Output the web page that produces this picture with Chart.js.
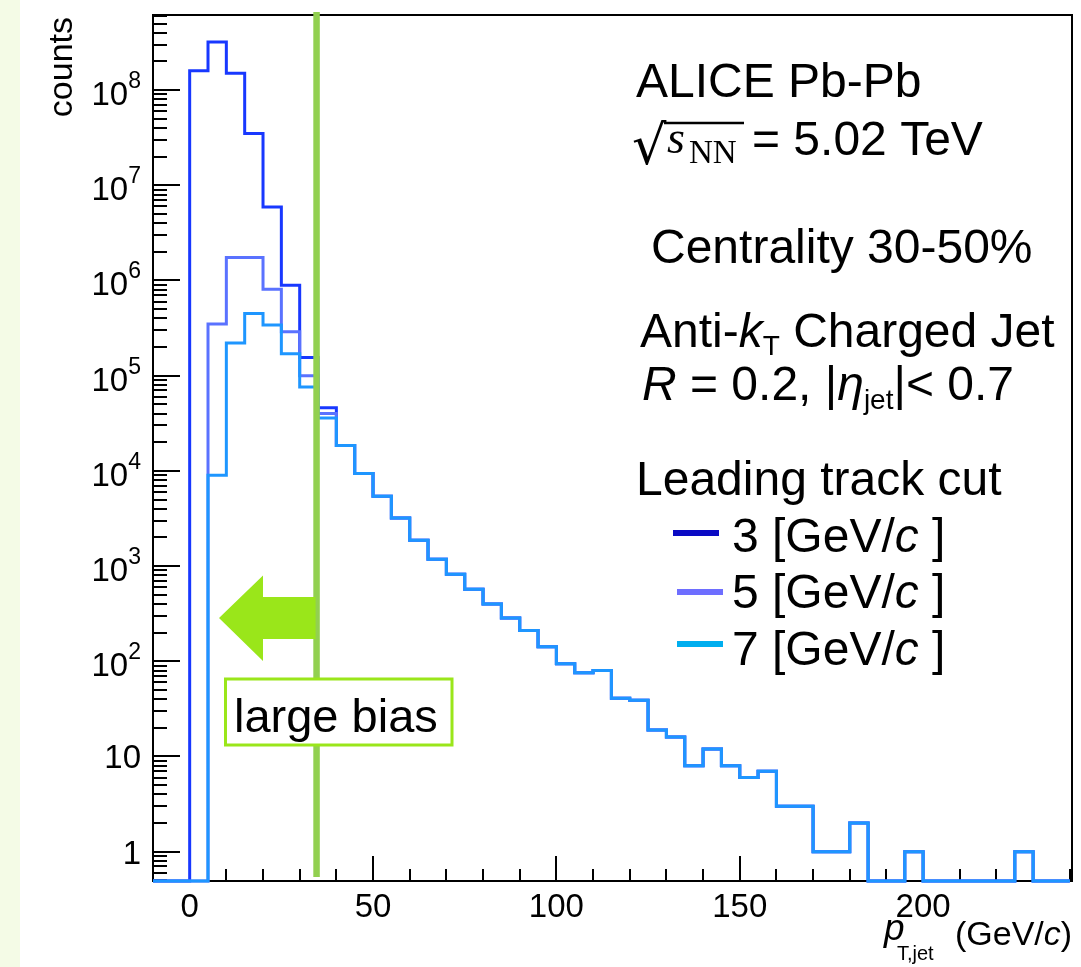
<!DOCTYPE html>
<html>
<head>
<meta charset="utf-8">
<script src="https://cdn.jsdelivr.net/npm/chart.js@4.4.0/dist/chart.umd.min.js"></script>
<style>
html,body{margin:0;padding:0;background:#ffffff;}
#wrap{width:1081px;height:967px;position:relative;}
canvas{display:block;}
</style>
</head>
<body>
<div id="wrap"><canvas id="c" width="1081" height="967"></canvas></div>
<script>
// ---------------- data ----------------
// lower edges of the 5 GeV/c wide pT,jet bins
const BIN_LOW = [-10,-5,0,5,10,15,20,25,30,35,40,45,50,55,60,65,70,75,80,85,90,95,100,105,110,115,120,125,130,135,140,145,150,155,160,165,170,175,180,185,190,195,200,205,210,215,220,225,230,235];
const BIN_HIGH_LAST = 240;

const COUNTS_LT3 = [0,0,1.6e8,3.2e8,1.5e8,3.5e7,5.9e6,8.9e5,1.55e5,4.6e4,
  18500,9400,5400,3200,1870,1180,820,570,400,285,210,142,94,76,80,41,39,19,16,8,12,8,6,7,3,3,1,1,2,0,0,1,0,0,0,0,0,1,0,0];
const COUNTS_LT5 = [0,0,0,3.5e5,1.74e6,1.74e6,8.1e5,2.9e5,1.0e5,4.0e4,
  18500,9400,5400,3200,1870,1180,820,570,400,285,210,142,94,76,80,41,39,19,16,8,12,8,6,7,3,3,1,1,2,0,0,1,0,0,0,0,0,1,0,0];
const COUNTS_LT7 = [0,0,0,9.0e3,2.2e5,4.5e5,3.4e5,1.7e5,7.6e4,3.6e4,
  18500,9400,5400,3200,1870,1180,820,570,400,285,210,142,94,76,80,41,39,19,16,8,12,8,6,7,3,3,1,1,2,0,0,1,0,0,0,0,0,1,0,0];

const SERIES_CUTS = ['3', '5', '7'];
const X_TICK_VALUES = [0, 50, 100, 150, 200];
const X_TICK_LABELS = ['0', '50', '100', '150', '200'];
const Y_TICK_VALUES = [1, 10, 1e2, 1e3, 1e4, 1e5, 1e6, 1e7, 1e8];
const Y_TICK_BASES  = ['1', '10', '10', '10', '10', '10', '10', '10', '10'];
const Y_TICK_EXPS   = ['', '', '2', '3', '4', '5', '6', '7', '8'];
const CUT_PT = 34.6;

// ---------------- style ----------------
const X_MIN = -10, X_MAX = 240.6;
const Y_MIN = 0.492, Y_MAX = 6.15e8;
const LINE_COLORS = ['#1838ff', '#5a72ff', '#1e96ff'];
const LEGEND_COLORS = ['#0a0ac4', '#6e6eff', '#00aeef'];
const SANS = '"Liberation Sans", Arial, Helvetica, sans-serif';
const SERIF = '"Liberation Serif", "DejaVu Serif", serif';

function histPoints(counts) {
  const pts = BIN_LOW.map((e, i) => ({ x: e, y: counts[i] > 0 ? counts[i] : Y_MIN }));
  pts.push({ x: BIN_HIGH_LAST, y: Y_MIN });
  return pts;
}

const seriesCounts = [COUNTS_LT3, COUNTS_LT5, COUNTS_LT7];
const datasets = seriesCounts.map((c, i) => ({
  label: 'Leading track cut ' + SERIES_CUTS[i] + ' GeV/c',
  data: histPoints(c),
  stepped: 'before',
  borderColor: LINE_COLORS[i],
  borderWidth: 3,
  borderJoinStyle: 'miter',
  borderCapStyle: 'butt',
  pointRadius: 0,
  fill: false,
  clip: 6,
  order: 2 - i
}));

function rich(ctx, x, y, runs) {
  let cx = x;
  for (const r of runs) {
    ctx.font = r.font;
    ctx.fillText(r.t, cx, y + (r.dy || 0));
    cx += ctx.measureText(r.t).width + (r.dx || 0);
  }
  return cx;
}

const rootPlugin = {
  id: 'rootStyle',
  beforeDraw(chart) {
    const ctx = chart.ctx;
    ctx.save();
    ctx.fillStyle = '#ffffff';
    ctx.fillRect(0, 0, chart.width, chart.height);
    ctx.fillStyle = '#f4fbe6';
    ctx.fillRect(0, 0, 20, chart.height);
    ctx.restore();
  },
  beforeDatasetsDraw(chart) {
    const ctx = chart.ctx;
    const { left, right, top, bottom } = chart.chartArea;
    const xs = chart.scales.x, ys = chart.scales.y;
    ctx.save();
    ctx.strokeStyle = '#000';
    ctx.lineWidth = 2;
    ctx.beginPath();
    // y ticks (inside)
    for (let d = -1; d <= 9; d++) {
      for (let m = 1; m <= 9; m++) {
        const v = m * Math.pow(10, d);
        if (v < ys.min || v > ys.max) continue;
        const py = Math.round(ys.getPixelForValue(v));
        const len = m === 1 ? 27 : 14;
        ctx.moveTo(left, py); ctx.lineTo(left + len, py);
      }
    }
    // x ticks (inside)
    for (let v = -10; v <= 240; v += 10) {
      const px = Math.round(xs.getPixelForValue(v));
      const len = v % 50 === 0 ? 25 : 12;
      ctx.moveTo(px, bottom); ctx.lineTo(px, bottom - len);
    }
    ctx.stroke();
    ctx.strokeRect(left, top, right - left, bottom - top);

    // tick labels
    ctx.fillStyle = '#000';
    ctx.textBaseline = 'alphabetic';
    ctx.textAlign = 'center';
    ctx.font = '33px ' + SANS;
    X_TICK_VALUES.forEach((v, i) => {
      ctx.fillText(X_TICK_LABELS[i], xs.getPixelForValue(v), 917);
    });
    ctx.textAlign = 'right';
    const rx = 141;
    Y_TICK_VALUES.forEach((v, i) => {
      const py = ys.getPixelForValue(v);
      if (Y_TICK_EXPS[i]) {
        ctx.font = '23px ' + SANS;
        ctx.fillText(Y_TICK_EXPS[i], rx, py - 2);
        const w = ctx.measureText(Y_TICK_EXPS[i]).width;
        ctx.font = '33px ' + SANS;
        ctx.fillText(Y_TICK_BASES[i], rx - w, py + 15);
      } else {
        ctx.font = '33px ' + SANS;
        ctx.fillText(Y_TICK_BASES[i], rx, py + 12);
      }
    });

    // axis titles
    ctx.save();
    ctx.translate(72, 17);
    ctx.rotate(-Math.PI / 2);
    ctx.textAlign = 'right';
    ctx.font = '34px ' + SANS;
    ctx.fillText('counts', 0, 0);
    ctx.restore();

    ctx.textAlign = 'left';
    ctx.font = 'italic 37px ' + SANS;
    ctx.fillText('p', 884, 940);
    ctx.font = '20px ' + SANS;
    ctx.fillText('T,jet', 897, 960);
    rich(ctx, 955, 945, [
      { t: '(GeV/', font: '34px ' + SANS },
      { t: 'c', font: 'italic 34px ' + SANS },
      { t: ')', font: '34px ' + SANS }
    ]);
    ctx.restore();
  },
  afterDatasetsDraw(chart) {
    const ctx = chart.ctx;
    const { top, bottom } = chart.chartArea;
    const xs = chart.scales.x;
    const cx = xs.getPixelForValue(CUT_PT);
    ctx.save();
    // cut line
    ctx.strokeStyle = '#92d050';
    ctx.lineWidth = 6.5;
    ctx.beginPath();
    ctx.moveTo(cx, top - 3);
    ctx.lineTo(cx, bottom - 4);
    ctx.stroke();
    // arrow
    ctx.fillStyle = '#9ae61a';
    ctx.beginPath();
    ctx.moveTo(219, 618);
    ctx.lineTo(263, 575.5);
    ctx.lineTo(263, 597);
    ctx.lineTo(cx - 1, 597);
    ctx.lineTo(cx - 1, 639);
    ctx.lineTo(263, 639);
    ctx.lineTo(263, 661);
    ctx.closePath();
    ctx.fill();
    // box
    ctx.fillStyle = '#ffffff';
    ctx.fillRect(225.5, 679, 226.5, 66);
    ctx.strokeStyle = '#9ae61a';
    ctx.lineWidth = 3;
    ctx.strokeRect(225.5, 679, 226.5, 66);
    ctx.fillStyle = '#000';
    ctx.textAlign = 'left';
    ctx.textBaseline = 'alphabetic';
    ctx.font = '47px ' + SANS;
    ctx.fillText('large bias', 234, 732);

    // annotations
    const F = '48px ' + SANS, FI = 'italic 48px ' + SANS, FS = '28px ' + SANS;
    ctx.font = F;
    ctx.fillText('ALICE Pb-Pb', 636, 97);
    // sqrt(sNN)
    ctx.font = '54px "DejaVu Sans"';
    ctx.fillText('\u221A', 632, 164);
    ctx.strokeStyle = '#000';
    ctx.lineWidth = 2.5;
    ctx.beginPath();
    ctx.moveTo(664, 123); ctx.lineTo(744, 123);
    ctx.stroke();
    ctx.font = 'italic 46px ' + SERIF;
    ctx.fillText('s', 667, 153);
    ctx.font = '33px ' + SERIF;
    ctx.fillText('NN', 689, 163);
    ctx.font = F;
    ctx.fillText('= 5.02 TeV', 752, 155);

    ctx.fillText('Centrality 30-50%', 651, 263);
    rich(ctx, 640, 347, [
      { t: 'Anti-', font: F },
      { t: 'k', font: FI },
      { t: 'T', font: FS, dy: 8 },
      { t: ' Charged Jet', font: F }
    ]);
    rich(ctx, 642, 400, [
      { t: 'R', font: FI },
      { t: ' = 0.2, |', font: F },
      { t: '\u03B7', font: FI },
      { t: 'jet', font: FS, dy: 9 },
      { t: '|< 0.7', font: F }
    ]);
    ctx.font = F;
    ctx.fillText('Leading track cut', 636, 495);

    // legend
    const legY = [533, 592, 644];
    const legX0 = [673, 677, 677];
    const txtY = [552, 608, 665];
    SERIES_CUTS.forEach((s, i) => {
      ctx.fillStyle = LEGEND_COLORS[i];
      ctx.fillRect(legX0[i], legY[i] - 3, 46, 6);
      ctx.fillStyle = '#000';
      rich(ctx, 732, txtY[i], [
        { t: s + ' [GeV/', font: F },
        { t: 'c', font: FI },
        { t: ' ]', font: F }
      ]);
    });
    ctx.restore();
  }
};

new Chart(document.getElementById('c'), {
  type: 'line',
  data: { datasets },
  options: {
    responsive: false,
    animation: false,
    devicePixelRatio: 1,
    layout: { padding: { left: 153, top: 15, right: 9, bottom: 86 } },
    scales: {
      x: { type: 'linear', min: X_MIN, max: X_MAX, display: false },
      y: { type: 'logarithmic', min: Y_MIN, max: Y_MAX, display: false }
    },
    plugins: { legend: { display: false }, tooltip: { enabled: false } }
  },
  plugins: [rootPlugin]
});
</script>
</body>
</html>
